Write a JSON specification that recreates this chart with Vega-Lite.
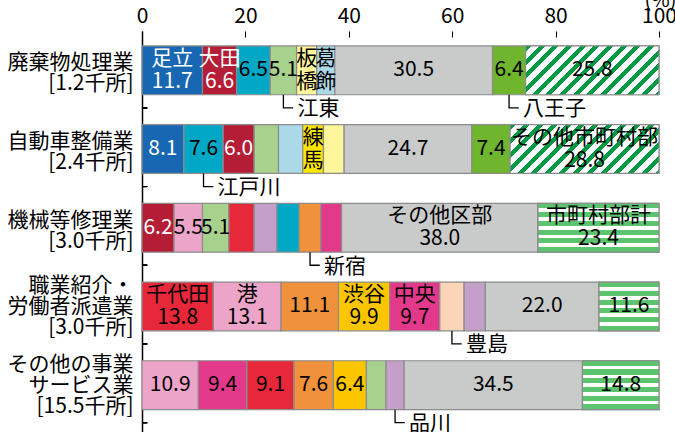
{
  "$schema": "https://vega.github.io/schema/vega-lite/v6.json",
  "autosize": {"type": "none"},
  "padding": {"left": 142, "top": 31, "right": 16, "bottom": 0},
  "width": 517,
  "height": 401,
  "background": "white",
  "config": {"view": {"stroke": null}, "font": "Noto Sans CJK JP"},
  "data": {"values": [
    {"cat": "廃棄物処理業\n[1.2千所]", "ord": 1, "name": "足立", "v": 11.7, "lab": "足立\n11.7", "call": ""},
    {"cat": "廃棄物処理業\n[1.2千所]", "ord": 2, "name": "大田", "v": 6.6, "lab": "大田\n6.6", "call": ""},
    {"cat": "廃棄物処理業\n[1.2千所]", "ord": 3, "name": "江戸川", "v": 6.5, "lab": "6.5", "call": ""},
    {"cat": "廃棄物処理業\n[1.2千所]", "ord": 4, "name": "江東", "v": 5.1, "lab": "5.1", "call": "江東"},
    {"cat": "廃棄物処理業\n[1.2千所]", "ord": 5, "name": "板橋", "v": 3.9, "lab": "板\n橋", "call": ""},
    {"cat": "廃棄物処理業\n[1.2千所]", "ord": 6, "name": "葛飾", "v": 3.5, "lab": "葛\n飾", "call": ""},
    {"cat": "廃棄物処理業\n[1.2千所]", "ord": 7, "name": "その他区部", "v": 30.5, "lab": "30.5", "call": ""},
    {"cat": "廃棄物処理業\n[1.2千所]", "ord": 8, "name": "八王子", "v": 6.4, "lab": "6.4", "call": "八王子"},
    {"cat": "廃棄物処理業\n[1.2千所]", "ord": 9, "name": "その他市町村部", "v": 25.8, "lab": "25.8", "call": ""},

    {"cat": "自動車整備業\n[2.4千所]", "ord": 1, "name": "足立", "v": 8.1, "lab": "8.1", "call": ""},
    {"cat": "自動車整備業\n[2.4千所]", "ord": 2, "name": "江戸川", "v": 7.6, "lab": "7.6", "call": "江戸川"},
    {"cat": "自動車整備業\n[2.4千所]", "ord": 3, "name": "大田", "v": 6.0, "lab": "6.0", "call": ""},
    {"cat": "自動車整備業\n[2.4千所]", "ord": 4, "name": "江東", "v": 4.7, "lab": "", "call": ""},
    {"cat": "自動車整備業\n[2.4千所]", "ord": 5, "name": "葛飾", "v": 4.7, "lab": "", "call": ""},
    {"cat": "自動車整備業\n[2.4千所]", "ord": 6, "name": "練馬", "v": 4.0, "lab": "練\n馬", "call": ""},
    {"cat": "自動車整備業\n[2.4千所]", "ord": 7, "name": "板橋", "v": 4.0, "lab": "", "call": ""},
    {"cat": "自動車整備業\n[2.4千所]", "ord": 8, "name": "その他区部", "v": 24.7, "lab": "24.7", "call": ""},
    {"cat": "自動車整備業\n[2.4千所]", "ord": 9, "name": "八王子", "v": 7.4, "lab": "7.4", "call": ""},
    {"cat": "自動車整備業\n[2.4千所]", "ord": 10, "name": "その他市町村部", "v": 28.8, "lab": "その他市町村部\n28.8", "call": ""},

    {"cat": "機械等修理業\n[3.0千所]", "ord": 1, "name": "大田", "v": 6.2, "lab": "6.2", "call": ""},
    {"cat": "機械等修理業\n[3.0千所]", "ord": 2, "name": "港", "v": 5.5, "lab": "5.5", "call": ""},
    {"cat": "機械等修理業\n[3.0千所]", "ord": 3, "name": "江東", "v": 5.1, "lab": "5.1", "call": ""},
    {"cat": "機械等修理業\n[3.0千所]", "ord": 4, "name": "千代田", "v": 4.9, "lab": "", "call": ""},
    {"cat": "機械等修理業\n[3.0千所]", "ord": 5, "name": "品川", "v": 4.4, "lab": "", "call": ""},
    {"cat": "機械等修理業\n[3.0千所]", "ord": 6, "name": "江戸川", "v": 4.3, "lab": "", "call": ""},
    {"cat": "機械等修理業\n[3.0千所]", "ord": 7, "name": "新宿", "v": 4.2, "lab": "", "call": "新宿"},
    {"cat": "機械等修理業\n[3.0千所]", "ord": 8, "name": "中央", "v": 4.0, "lab": "", "call": ""},
    {"cat": "機械等修理業\n[3.0千所]", "ord": 9, "name": "その他区部", "v": 38.0, "lab": "その他区部\n38.0", "call": ""},
    {"cat": "機械等修理業\n[3.0千所]", "ord": 10, "name": "市町村部計", "v": 23.4, "lab": "市町村部計\n23.4", "call": ""},

    {"cat": "職業紹介・\n労働者派遣業\n[3.0千所]", "ord": 1, "name": "千代田", "v": 13.8, "lab": "千代田\n13.8", "call": ""},
    {"cat": "職業紹介・\n労働者派遣業\n[3.0千所]", "ord": 2, "name": "港", "v": 13.1, "lab": "港\n13.1", "call": ""},
    {"cat": "職業紹介・\n労働者派遣業\n[3.0千所]", "ord": 3, "name": "新宿", "v": 11.1, "lab": "11.1", "call": ""},
    {"cat": "職業紹介・\n労働者派遣業\n[3.0千所]", "ord": 4, "name": "渋谷", "v": 9.9, "lab": "渋谷\n9.9", "call": ""},
    {"cat": "職業紹介・\n労働者派遣業\n[3.0千所]", "ord": 5, "name": "中央", "v": 9.7, "lab": "中央\n9.7", "call": ""},
    {"cat": "職業紹介・\n労働者派遣業\n[3.0千所]", "ord": 6, "name": "豊島", "v": 4.7, "lab": "", "call": "豊島"},
    {"cat": "職業紹介・\n労働者派遣業\n[3.0千所]", "ord": 7, "name": "品川", "v": 4.1, "lab": "", "call": ""},
    {"cat": "職業紹介・\n労働者派遣業\n[3.0千所]", "ord": 8, "name": "その他区部", "v": 22.0, "lab": "22.0", "call": ""},
    {"cat": "職業紹介・\n労働者派遣業\n[3.0千所]", "ord": 9, "name": "市町村部計", "v": 11.6, "lab": "11.6", "call": ""},

    {"cat": "その他の事業\nサービス業\n[15.5千所]", "ord": 1, "name": "港", "v": 10.9, "lab": "10.9", "call": ""},
    {"cat": "その他の事業\nサービス業\n[15.5千所]", "ord": 2, "name": "中央", "v": 9.4, "lab": "9.4", "call": ""},
    {"cat": "その他の事業\nサービス業\n[15.5千所]", "ord": 3, "name": "千代田", "v": 9.1, "lab": "9.1", "call": ""},
    {"cat": "その他の事業\nサービス業\n[15.5千所]", "ord": 4, "name": "新宿", "v": 7.6, "lab": "7.6", "call": ""},
    {"cat": "その他の事業\nサービス業\n[15.5千所]", "ord": 5, "name": "渋谷", "v": 6.4, "lab": "6.4", "call": ""},
    {"cat": "その他の事業\nサービス業\n[15.5千所]", "ord": 6, "name": "江東", "v": 3.8, "lab": "", "call": ""},
    {"cat": "その他の事業\nサービス業\n[15.5千所]", "ord": 7, "name": "品川", "v": 3.5, "lab": "", "call": "品川"},
    {"cat": "その他の事業\nサービス業\n[15.5千所]", "ord": 8, "name": "その他区部", "v": 34.5, "lab": "34.5", "call": ""},
    {"cat": "その他の事業\nサービス業\n[15.5千所]", "ord": 9, "name": "市町村部計", "v": 14.8, "lab": "14.8", "call": ""}
  ]},
  "transform": [
    {"stack": "v", "groupby": ["cat"], "sort": [{"field": "ord", "order": "ascending"}], "as": ["x0", "x1"]}
  ],
  "encoding": {
    "y": {"field": "cat", "type": "nominal", "sort": null,
      "scale": {"type": "band",
        "domain": ["廃棄物処理業\n[1.2千所]", "自動車整備業\n[2.4千所]", "機械等修理業\n[3.0千所]", "職業紹介・\n労働者派遣業\n[3.0千所]", "その他の事業\nサービス業\n[15.5千所]"],
        "paddingInner": 0.38, "paddingOuter": 0.2376, "align": 0.4},
      "axis": {"orient": "left", "title": null, "domain": true, "domainColor": "black", "domainWidth": 1.5,
        "ticks": false, "labelPadding": 9, "labelFontSize": 21, "labelLineHeight": 21, "labelAlign": "right",
        "labelBaseline": "middle", "labelExpr": "split(datum.label, '\\n')", "labelLimit": 0, "labelColor": "black",
        "labelOffset": {"condition": {"test": "length(split(datum.label, '\\n')) > 2", "value": -20}, "value": -7},
        "labelFont": "Noto Sans CJK JP"}}
  },
  "layer": [
    {
      "mark": {"type": "bar", "stroke": "#8c8c8c", "strokeWidth": 1.2},
      "encoding": {
        "x": {"field": "x0", "type": "quantitative",
          "scale": {"domain": [0, 100], "nice": false},
          "axis": {"orient": "top", "values": [0, 20, 40, 60, 80, 100], "domain": false, "grid": false,
            "ticks": true, "tickSize": 6, "tickColor": "black", "tickWidth": 1, "offset": -6,
            "labelPadding": 9, "labelBaseline": "alphabetic", "labelFontSize": 21, "labelColor": "black",
            "labelFlush": false, "labelOverlap": false, "labelFont": "Noto Sans CJK JP",
            "title": "(%)", "titleX": 518, "titleY": -31, "titleAlign": "center", "titleBaseline": "alphabetic",
            "titleAngle": 0, "titleFontSize": 20, "titleFontWeight": "normal", "titleColor": "black",
            "titleFont": "Noto Sans CJK JP"}},
        "x2": {"field": "x1"},
        "color": {"field": "name", "type": "nominal", "legend": null,
          "scale": {
            "domain": ["足立", "大田", "江戸川", "江東", "板橋", "葛飾", "練馬", "千代田", "港", "渋谷", "中央", "新宿", "豊島", "品川", "八王子", "その他区部", "その他市町村部", "市町村部計"],
            "range": ["#1867b2", "#b41d35", "#00a8c6", "#a9d18e", "#fff59a", "#acd9e8", "#ffe600", "#e7283a", "#eca5c9", "#fbc600", "#e3398b", "#f0913b", "#fcd5b8", "#c39fca", "#70b52e", "#c9caca", "#ffffff", "#ffffff"]}}
      }
    },
    {
      "transform": [{"filter": "datum.name === 'その他市町村部' && datum.ord === 9"}],
      "mark": {"type": "bar", "stroke": "#8c8c8c", "strokeWidth": 1.2,
        "fill": {"gradient": "linear", "x1": 0, "y1": 0, "x2": 1.2047, "y2": 0.441, "stops": [
          {"offset": 0, "color": "#009a44"}, {"offset": 0.032, "color": "#009a44"}, {"offset": 0.032, "color": "#ffffff"}, {"offset": 0.075, "color": "#ffffff"},
          {"offset": 0.075, "color": "#009a44"}, {"offset": 0.107, "color": "#009a44"}, {"offset": 0.107, "color": "#ffffff"}, {"offset": 0.15, "color": "#ffffff"},
          {"offset": 0.15, "color": "#009a44"}, {"offset": 0.182, "color": "#009a44"}, {"offset": 0.182, "color": "#ffffff"}, {"offset": 0.225, "color": "#ffffff"},
          {"offset": 0.225, "color": "#009a44"}, {"offset": 0.257, "color": "#009a44"}, {"offset": 0.257, "color": "#ffffff"}, {"offset": 0.3, "color": "#ffffff"},
          {"offset": 0.3, "color": "#009a44"}, {"offset": 0.332, "color": "#009a44"}, {"offset": 0.332, "color": "#ffffff"}, {"offset": 0.375, "color": "#ffffff"},
          {"offset": 0.375, "color": "#009a44"}, {"offset": 0.407, "color": "#009a44"}, {"offset": 0.407, "color": "#ffffff"}, {"offset": 0.45, "color": "#ffffff"},
          {"offset": 0.45, "color": "#009a44"}, {"offset": 0.482, "color": "#009a44"}, {"offset": 0.482, "color": "#ffffff"}, {"offset": 0.525, "color": "#ffffff"},
          {"offset": 0.525, "color": "#009a44"}, {"offset": 0.557, "color": "#009a44"}, {"offset": 0.557, "color": "#ffffff"}, {"offset": 0.6, "color": "#ffffff"},
          {"offset": 0.6, "color": "#009a44"}, {"offset": 0.632, "color": "#009a44"}, {"offset": 0.632, "color": "#ffffff"}, {"offset": 0.675, "color": "#ffffff"},
          {"offset": 0.675, "color": "#009a44"}, {"offset": 0.707, "color": "#009a44"}, {"offset": 0.707, "color": "#ffffff"}, {"offset": 0.75, "color": "#ffffff"},
          {"offset": 0.75, "color": "#009a44"}, {"offset": 0.782, "color": "#009a44"}, {"offset": 0.782, "color": "#ffffff"}, {"offset": 0.825, "color": "#ffffff"},
          {"offset": 0.825, "color": "#009a44"}, {"offset": 0.857, "color": "#009a44"}, {"offset": 0.857, "color": "#ffffff"}, {"offset": 0.9, "color": "#ffffff"},
          {"offset": 0.9, "color": "#009a44"}, {"offset": 0.932, "color": "#009a44"}, {"offset": 0.932, "color": "#ffffff"}, {"offset": 0.975, "color": "#ffffff"},
          {"offset": 0.975, "color": "#009a44"}, {"offset": 1, "color": "#009a44"}
        ]}},
      "encoding": {
        "x": {"field": "x0", "type": "quantitative"},
        "x2": {"field": "x1"}
      }
    },
    {
      "transform": [{"filter": "datum.name === 'その他市町村部' && datum.ord === 10"}],
      "mark": {"type": "bar", "stroke": "#8c8c8c", "strokeWidth": 1.2,
        "fill": {"gradient": "linear", "x1": 0, "y1": 0, "x2": 1.199, "y2": 0.393, "stops": [
          {"offset": 0, "color": "#009a44"}, {"offset": 0.03, "color": "#009a44"}, {"offset": 0.03, "color": "#ffffff"}, {"offset": 0.07, "color": "#ffffff"},
          {"offset": 0.07, "color": "#009a44"}, {"offset": 0.1, "color": "#009a44"}, {"offset": 0.1, "color": "#ffffff"}, {"offset": 0.14, "color": "#ffffff"},
          {"offset": 0.14, "color": "#009a44"}, {"offset": 0.17, "color": "#009a44"}, {"offset": 0.17, "color": "#ffffff"}, {"offset": 0.21, "color": "#ffffff"},
          {"offset": 0.21, "color": "#009a44"}, {"offset": 0.24, "color": "#009a44"}, {"offset": 0.24, "color": "#ffffff"}, {"offset": 0.28, "color": "#ffffff"},
          {"offset": 0.28, "color": "#009a44"}, {"offset": 0.31, "color": "#009a44"}, {"offset": 0.31, "color": "#ffffff"}, {"offset": 0.35, "color": "#ffffff"},
          {"offset": 0.35, "color": "#009a44"}, {"offset": 0.38, "color": "#009a44"}, {"offset": 0.38, "color": "#ffffff"}, {"offset": 0.42, "color": "#ffffff"},
          {"offset": 0.42, "color": "#009a44"}, {"offset": 0.45, "color": "#009a44"}, {"offset": 0.45, "color": "#ffffff"}, {"offset": 0.49, "color": "#ffffff"},
          {"offset": 0.49, "color": "#009a44"}, {"offset": 0.52, "color": "#009a44"}, {"offset": 0.52, "color": "#ffffff"}, {"offset": 0.56, "color": "#ffffff"},
          {"offset": 0.56, "color": "#009a44"}, {"offset": 0.59, "color": "#009a44"}, {"offset": 0.59, "color": "#ffffff"}, {"offset": 0.63, "color": "#ffffff"},
          {"offset": 0.63, "color": "#009a44"}, {"offset": 0.66, "color": "#009a44"}, {"offset": 0.66, "color": "#ffffff"}, {"offset": 0.7, "color": "#ffffff"},
          {"offset": 0.7, "color": "#009a44"}, {"offset": 0.73, "color": "#009a44"}, {"offset": 0.73, "color": "#ffffff"}, {"offset": 0.77, "color": "#ffffff"},
          {"offset": 0.77, "color": "#009a44"}, {"offset": 0.8, "color": "#009a44"}, {"offset": 0.8, "color": "#ffffff"}, {"offset": 0.84, "color": "#ffffff"},
          {"offset": 0.84, "color": "#009a44"}, {"offset": 0.87, "color": "#009a44"}, {"offset": 0.87, "color": "#ffffff"}, {"offset": 0.91, "color": "#ffffff"},
          {"offset": 0.91, "color": "#009a44"}, {"offset": 0.94, "color": "#009a44"}, {"offset": 0.94, "color": "#ffffff"}, {"offset": 0.98, "color": "#ffffff"},
          {"offset": 0.98, "color": "#009a44"}, {"offset": 1, "color": "#009a44"}
        ]}},
      "encoding": {
        "x": {"field": "x0", "type": "quantitative"},
        "x2": {"field": "x1"}
      }
    },
    {
      "transform": [{"filter": "datum.name === '市町村部計'"}],
      "mark": {"type": "bar", "stroke": "#8c8c8c", "strokeWidth": 1.2,
        "fill": {"gradient": "linear", "x1": 0, "y1": 0, "x2": 0, "y2": 1, "stops": [
          {"offset": 0, "color": "#5cc46f"}, {"offset": 0.1045, "color": "#5cc46f"}, {"offset": 0.1045, "color": "#ffffff"}, {"offset": 0.179, "color": "#ffffff"},
          {"offset": 0.179, "color": "#5cc46f"}, {"offset": 0.2836, "color": "#5cc46f"}, {"offset": 0.2836, "color": "#ffffff"}, {"offset": 0.3582, "color": "#ffffff"},
          {"offset": 0.3582, "color": "#5cc46f"}, {"offset": 0.4627, "color": "#5cc46f"}, {"offset": 0.4627, "color": "#ffffff"}, {"offset": 0.5373, "color": "#ffffff"},
          {"offset": 0.5373, "color": "#5cc46f"}, {"offset": 0.6418, "color": "#5cc46f"}, {"offset": 0.6418, "color": "#ffffff"}, {"offset": 0.7164, "color": "#ffffff"},
          {"offset": 0.7164, "color": "#5cc46f"}, {"offset": 0.8209, "color": "#5cc46f"}, {"offset": 0.8209, "color": "#ffffff"}, {"offset": 0.8955, "color": "#ffffff"},
          {"offset": 0.8955, "color": "#5cc46f"}, {"offset": 1, "color": "#5cc46f"}
        ]}},
      "encoding": {
        "x": {"field": "x0", "type": "quantitative"},
        "x2": {"field": "x1"}
      }
    },
    {
      "mark": {"type": "text", "fontSize": 21, "baseline": "middle", "align": "center", "font": "Noto Sans CJK JP"},
      "encoding": {
        "x": {"field": "v", "type": "quantitative", "stack": "zero", "bandPosition": 0.5},
        "order": {"field": "ord", "type": "quantitative"},
        "detail": {"field": "name"},
        "text": {"condition": {"test": "indexof(datum.lab, '\\n') < 0", "field": "lab"}, "value": ""},
        "color": {"condition": {"test": "datum.name === '足立' || datum.name === '大田'", "value": "#ffffff"}, "value": "#000000"}
      }
    },
    {
      "mark": {"type": "text", "fontSize": 21, "lineHeight": 23, "lineBreak": "\n", "baseline": "middle", "align": "center", "dy": -11.5, "font": "Noto Sans CJK JP"},
      "encoding": {
        "x": {"field": "v", "type": "quantitative", "stack": "zero", "bandPosition": 0.5},
        "order": {"field": "ord", "type": "quantitative"},
        "detail": {"field": "name"},
        "text": {"condition": {"test": "indexof(datum.lab, '\\n') >= 0", "field": "lab"}, "value": ""},
        "color": {"condition": {"test": "datum.name === '足立' || datum.name === '大田'", "value": "#ffffff"}, "value": "#000000"}
      }
    },
    {
      "mark": {"type": "point", "shape": "M0,-1L0,0L0.75,0", "size": 676, "filled": false, "stroke": "#000000", "strokeWidth": 1.3, "yOffset": 37.5},
      "encoding": {
        "x": {"field": "v", "type": "quantitative", "stack": "zero", "bandPosition": 0.5},
        "order": {"field": "ord", "type": "quantitative"},
        "detail": {"field": "name"},
        "opacity": {"condition": {"test": "datum.call !== ''", "value": 1}, "value": 0}
      }
    },
    {
      "mark": {"type": "text", "fontSize": 21, "baseline": "middle", "align": "left", "dx": 14, "yOffset": 39,
        "font": "Noto Sans CJK JP", "color": "#000000"},
      "encoding": {
        "x": {"field": "v", "type": "quantitative", "stack": "zero", "bandPosition": 0.5},
        "order": {"field": "ord", "type": "quantitative"},
        "detail": {"field": "name"},
        "text": {"field": "call"}
      }
    },
    {
      "mark": {"type": "rule", "color": "#000000", "strokeWidth": 1, "yOffset": 37.5},
      "encoding": {
        "x": {"datum": 0, "type": "quantitative"},
        "x2": {"datum": 1}
      }
    }
  ]
}
